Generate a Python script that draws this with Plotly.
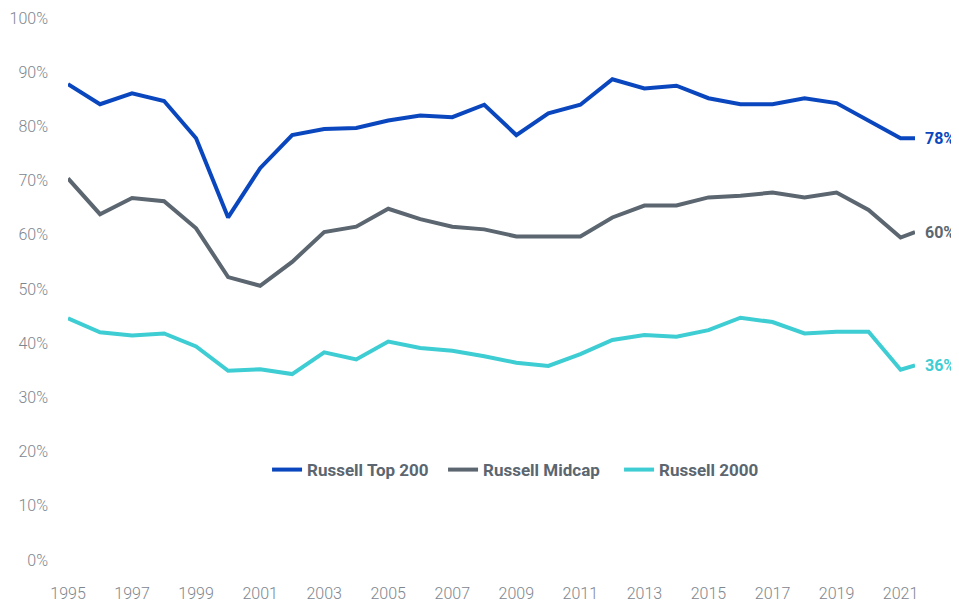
import plotly.graph_objects as go

years = [1995, 1996, 1997, 1998, 1999, 2000, 2001, 2002, 2003, 2004, 2005, 2006, 2007,
         2008, 2009, 2010, 2011, 2012, 2013, 2014, 2015, 2016, 2017, 2018, 2019, 2020,
         2021, 2021.45]

top200 = [87.8, 84.1, 86.1, 84.7, 77.8, 63.2, 72.3, 78.4, 79.5, 79.7, 81.1, 82.0, 81.7,
          84.0, 78.4, 82.4, 84.0, 88.7, 87.0, 87.5, 85.2, 84.1, 84.1, 85.2, 84.3, 81.1,
          77.8, 77.8]
midcap = [70.4, 63.8, 66.8, 66.2, 61.2, 52.2, 50.6, 55.0, 60.5, 61.5, 64.8, 62.9, 61.5,
          61.0, 59.7, 59.7, 59.7, 63.2, 65.4, 65.4, 66.9, 67.2, 67.8, 66.9, 67.8, 64.6,
          59.5, 60.5]
r2000 = [44.6, 42.0, 41.4, 41.8, 39.4, 34.9, 35.2, 34.3, 38.3, 37.0, 40.3, 39.1, 38.6,
         37.6, 36.4, 35.8, 38.0, 40.6, 41.5, 41.2, 42.4, 44.7, 43.9, 41.8, 42.1, 42.1,
         35.1, 35.9]

series_names = ["Russell Top 200", "Russell Midcap", "Russell 2000"]
end_labels = ["78%", "60%", "36%"]
colors = ["#0A47BE", "#5B6670", "#3DCDD3"]

xtick_vals = list(range(1995, 2022, 2))
ytick_vals = list(range(0, 101, 10))
ytick_text = [f"{v}%" for v in ytick_vals]

FONT = "Roboto, sans-serif"

fig = go.Figure()
for name, vals, col, lab in zip(series_names, [top200, midcap, r2000], colors, end_labels):
    fig.add_trace(go.Scatter(
        x=years, y=vals, mode="lines", name=name,
        line=dict(color=col, width=4), cliponaxis=False,
    ))
    fig.add_annotation(
        x=years[-1], y=vals[-1], xref="x", yref="y", text=f"<b>{lab}</b>",
        showarrow=False, xanchor="left", xshift=8,
        font=dict(family=FONT, size=16, color=col),
    )

# page body adds an 8px offset; figure is sized to fit the 959x606 window
fig.update_layout(
    width=951, height=598,
    margin=dict(l=60, r=44, t=10, b=46, autoexpand=False),
    paper_bgcolor="white", plot_bgcolor="white",
    font=dict(family=FONT, color="#7A828A"),
    showlegend=True,
    legend=dict(
        orientation="h", x=0.235, xanchor="left", y=0.166, yanchor="middle",
        xref="paper",
        font=dict(family=FONT, size=17, color="#5B6670", weight="bold"),
        itemwidth=30, tracegroupgap=0, bgcolor="rgba(0,0,0,0)",
        entrywidth=131, entrywidthmode="pixels",
    ),
    xaxis=dict(
        range=[1995, 2021.45], tickvals=xtick_vals, ticktext=[str(v) for v in xtick_vals],
        showgrid=False, zeroline=False, showline=False, ticks="", automargin=False,
        tickfont=dict(family=FONT, size=16, color="#7E868E", weight=300), ticklabelstandoff=22,
    ),
    yaxis=dict(
        range=[0, 100], tickvals=ytick_vals, ticktext=ytick_text,
        showgrid=False, zeroline=False, showline=False, ticks="", automargin=False,
        tickfont=dict(family=FONT, size=16, color="#7E868E", weight=300), ticklabelstandoff=19,
    ),
)

fig.write_html("out.html")
